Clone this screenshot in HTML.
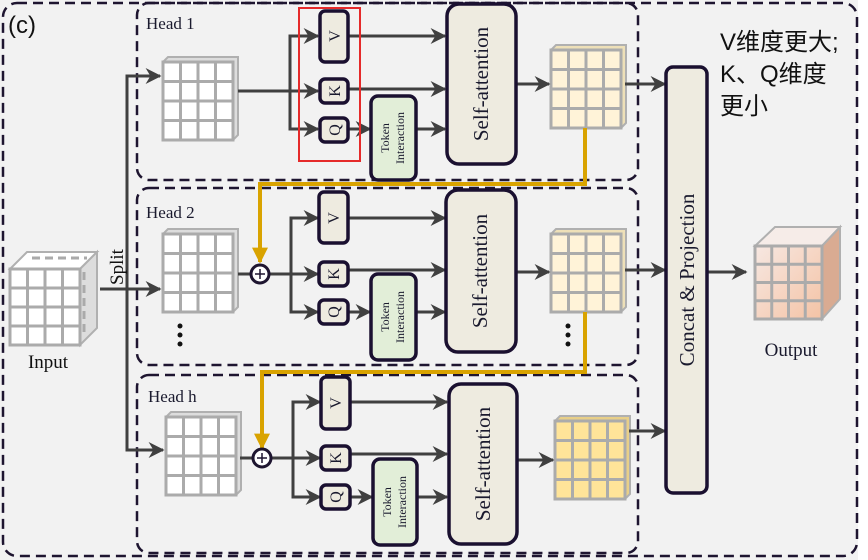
<!DOCTYPE html>
<html><head><meta charset="utf-8"><style>
html,body{margin:0;padding:0;background:#fff;}
svg{display:block;}
.serif{font-family:"Liberation Serif","DejaVu Serif",serif;}
</style></head><body>
<svg width="868" height="560" viewBox="0 0 868 560" xmlns="http://www.w3.org/2000/svg">
<defs>
<marker id="ar" viewBox="0 0 10 10" refX="9" refY="5" markerWidth="5" markerHeight="5" orient="auto" markerUnits="userSpaceOnUse">
<path d="M0,0 L10,5 L0,10 L3,5 z" fill="#404040"/>
</marker>
<marker id="a2" viewBox="0 0 10 10" refX="9" refY="5" markerWidth="16" markerHeight="16" orient="auto" markerUnits="userSpaceOnUse">
<path d="M0,0 L10,5 L0,10 L3,5 z" fill="#404040"/>
</marker>
<marker id="ag" viewBox="0 0 10 10" refX="9" refY="5" markerWidth="16" markerHeight="16" orient="auto" markerUnits="userSpaceOnUse">
<path d="M0,0 L10,5 L0,0 L0,10 L10,5 z" fill="#d9a300"/>
</marker>
<linearGradient id="og" x1="0" y1="0" x2="1" y2="1"><stop offset="0" stop-color="#f7e8e2"/><stop offset="1" stop-color="#f4c3a5"/></linearGradient>
<g id="gw">
<path d="M0,0 l5,-5 h70 v78 l-5,5 z" fill="#ddd" stroke="#b0b0b0" stroke-width="2"/>
<rect x="0" y="0" width="70" height="78" fill="#fff" stroke="#ababab" stroke-width="3"/>
<path d="M17.5,0 v78 M35,0 v78 M52.5,0 v78 M0,19.5 h70 M0,39 h70 M0,58.5 h70" stroke="#ababab" stroke-width="3"/>
</g>
<g id="gc">
<path d="M0,0 l5,-5 h70 v78 l-5,5 z" fill="#eee0b8" stroke="#b0b0b0" stroke-width="2"/>
<rect x="0" y="0" width="70" height="78" fill="#fff3d8" stroke="#ababab" stroke-width="3"/>
<path d="M17.5,0 v78 M35,0 v78 M52.5,0 v78 M0,19.5 h70 M0,39 h70 M0,58.5 h70" stroke="#ababab" stroke-width="3"/>
</g>
<g id="gy">
<path d="M0,0 l5,-5 h70 v78 l-5,5 z" fill="#e8cf88" stroke="#b0b0b0" stroke-width="2"/>
<rect x="0" y="0" width="70" height="78" fill="#ffe499" stroke="#ababab" stroke-width="3"/>
<path d="M17.5,0 v78 M35,0 v78 M52.5,0 v78 M0,19.5 h70 M0,39 h70 M0,58.5 h70" stroke="#ababab" stroke-width="3"/>
</g>
</defs>
<rect x="0" y="0" width="858" height="560" fill="#f2f2f2"/>
<rect x="3" y="3" width="854" height="553" rx="14" fill="none" stroke="#1e1530" stroke-width="2.5" stroke-dasharray="10,6"/>
<text x="8" y="33" font-family="Liberation Sans,sans-serif" font-size="24" fill="#111">(c)</text>

<!-- head boxes -->
<rect x="137" y="3" width="501" height="177" rx="12" fill="none" stroke="#1e1530" stroke-width="2.5" stroke-dasharray="10,6"/>
<rect x="137" y="188" width="501" height="177" rx="12" fill="none" stroke="#1e1530" stroke-width="2.5" stroke-dasharray="10,6"/>
<rect x="137" y="375" width="501" height="178" rx="12" fill="none" stroke="#1e1530" stroke-width="2.5" stroke-dasharray="10,6"/>
<text x="146" y="29" class="serif" font-size="17" fill="#1a1a2e">Head 1</text>
<text x="146" y="218" class="serif" font-size="17" fill="#1a1a2e">Head 2</text>
<text x="148" y="402" class="serif" font-size="17" fill="#1a1a2e">Head h</text>

<!-- input cube -->
<path d="M10,269 l17,-17 h70 l-17,17 z" fill="#fff" stroke="#b0b0b0" stroke-width="2"/>
<path d="M80,269 l17,-17 v76 l-17,17 z" fill="#ddd" stroke="#b0b0b0" stroke-width="2"/>
<path d="M32,258 h55 M84,272 v65" stroke="#aaa" stroke-width="3" stroke-dasharray="8,5"/>
<rect x="10" y="269" width="70" height="76" fill="#fff" stroke="#ababab" stroke-width="3"/>
<path d="M27.5,269 v76 M45,269 v76 M62.5,269 v76 M10,288 h70 M10,307 h70 M10,326 h70" stroke="#ababab" stroke-width="3"/>
<text x="48" y="368" text-anchor="middle" class="serif" font-size="19" fill="#111">Input</text>

<!-- split -->
<line x1="100" y1="289" x2="160" y2="289" stroke="#404040" stroke-width="3" marker-end="url(#a2)"/>
<path d="M160,76 H127 V450 H160" fill="none" stroke="#404040" stroke-width="3"/>
<line x1="127" y1="76" x2="160" y2="76" stroke="#404040" stroke-width="3" marker-end="url(#a2)"/>
<line x1="127" y1="450" x2="163" y2="450" stroke="#404040" stroke-width="3" marker-end="url(#a2)"/>
<text transform="translate(123,285) rotate(-90)" class="serif" font-size="19" fill="#111">Split</text>

<!-- grids -->
<use href="#gw" x="163" y="62"/>
<use href="#gw" x="163" y="234"/>
<use href="#gw" x="166" y="417"/>
<use href="#gc" x="551" y="50"/>
<use href="#gc" x="551" y="234"/>
<use href="#gy" x="555" y="421"/>

<!-- dots -->
<g fill="#111"><circle cx="180" cy="326" r="2.5"/><circle cx="180" cy="335" r="2.5"/><circle cx="180" cy="344" r="2.5"/>
<circle cx="568" cy="326" r="2.5"/><circle cx="568" cy="335" r="2.5"/><circle cx="568" cy="344" r="2.5"/></g>

<!-- gold -->
<path d="M585,128 V184 H260 V262" fill="none" stroke="#d9a300" stroke-width="4" marker-end="url(#ag)"/>
<path d="M585,312 V372 H262 V448" fill="none" stroke="#d9a300" stroke-width="4" marker-end="url(#ag)"/>

<g stroke="#404040" stroke-width="3" fill="none">
<!-- head1 -->
<path d="M238,91 H290 M318,36 H290 V129 H318"/>
<line x1="290" y1="36" x2="318" y2="36" marker-end="url(#a2)"/>
<line x1="238" y1="91" x2="318" y2="91" marker-end="url(#a2)"/>
<line x1="290" y1="129" x2="318" y2="129" marker-end="url(#a2)"/>
<line x1="348" y1="36" x2="445" y2="36" marker-end="url(#a2)"/>
<line x1="348" y1="89" x2="445" y2="89" marker-end="url(#a2)"/>
<line x1="348" y1="129" x2="370" y2="129" marker-end="url(#a2)"/>
<line x1="416" y1="129" x2="445" y2="129" marker-end="url(#a2)"/>
<line x1="516" y1="84" x2="549" y2="84" marker-end="url(#a2)"/>
<line x1="625" y1="84" x2="665" y2="84" marker-end="url(#a2)"/>
<!-- head2 -->
<path d="M238,274 H251 M269,274 H291 M317,218 H291 V312 H317"/>
<line x1="291" y1="218" x2="318" y2="218" marker-end="url(#a2)"/>
<line x1="269" y1="274" x2="318" y2="274" marker-end="url(#a2)"/>
<line x1="291" y1="312" x2="318" y2="312" marker-end="url(#a2)"/>
<line x1="348" y1="218" x2="445" y2="218" marker-end="url(#a2)"/>
<line x1="348" y1="270" x2="445" y2="270" marker-end="url(#a2)"/>
<line x1="348" y1="312" x2="370" y2="312" marker-end="url(#a2)"/>
<line x1="416" y1="312" x2="445" y2="312" marker-end="url(#a2)"/>
<line x1="516" y1="272" x2="549" y2="272" marker-end="url(#a2)"/>
<line x1="625" y1="270" x2="665" y2="270" marker-end="url(#a2)"/>
<!-- head h -->
<path d="M240,458 H253 M271,458 H293 M320,402 H293 V497 H320"/>
<line x1="293" y1="402" x2="320" y2="402" marker-end="url(#a2)"/>
<line x1="271" y1="458" x2="320" y2="458" marker-end="url(#a2)"/>
<line x1="293" y1="497" x2="320" y2="497" marker-end="url(#a2)"/>
<line x1="350" y1="402" x2="447" y2="402" marker-end="url(#a2)"/>
<line x1="350" y1="454" x2="447" y2="454" marker-end="url(#a2)"/>
<line x1="350" y1="497" x2="372" y2="497" marker-end="url(#a2)"/>
<line x1="418" y1="497" x2="447" y2="497" marker-end="url(#a2)"/>
<line x1="518" y1="460" x2="553" y2="460" marker-end="url(#a2)"/>
<line x1="629" y1="431" x2="665" y2="431" marker-end="url(#a2)"/>
<!-- out -->
<line x1="708" y1="272" x2="746" y2="272" marker-end="url(#a2)"/>
</g>

<!-- plus circles -->
<g stroke="#1e1530" stroke-width="3" fill="#fff">
<circle cx="260" cy="274" r="9"/><circle cx="262" cy="458" r="9"/></g>
<g stroke="#1e1530" stroke-width="1.5"><path d="M255,274 h10 M260,269 v10 M257,458 h10 M262,453 v10"/></g>

<!-- boxes -->
<g stroke="#1a1030" stroke-width="3.5" fill="#eeebe0">
<rect x="320" y="11" width="28" height="51" rx="5"/>
<rect x="320" y="79" width="28" height="24" rx="5"/>
<rect x="320" y="118" width="28" height="24" rx="5"/>
<rect x="319" y="192" width="29" height="51" rx="5"/>
<rect x="319" y="262" width="29" height="24" rx="5"/>
<rect x="319" y="300" width="29" height="24" rx="5"/>
<rect x="321" y="377" width="29" height="52" rx="5"/>
<rect x="321" y="446" width="29" height="24" rx="5"/>
<rect x="321" y="485" width="29" height="24" rx="5"/>
<rect x="447" y="4" width="69" height="160" rx="12"/>
<rect x="446" y="190" width="70" height="162" rx="12"/>
<rect x="449" y="384" width="68" height="160" rx="12"/>
<rect x="666" y="67" width="41" height="426" rx="7"/>
</g>
<g stroke="#1a1030" stroke-width="3.5" fill="#e2eed8">
<rect x="371" y="96" width="45" height="84" rx="7"/>
<rect x="371" y="274" width="45" height="86" rx="7"/>
<rect x="373" y="459" width="44" height="86" rx="7"/>
</g>
<rect x="299" y="8" width="61" height="153" fill="none" stroke="#e52a2a" stroke-width="2"/>

<g class="serif" fill="#1a1a2e" text-anchor="middle">
<text transform="translate(340,36) rotate(-90)" font-size="16" dy="0">V</text>
<text transform="translate(340,91) rotate(-90)" font-size="16">K</text>
<text transform="translate(340,130) rotate(-90)" font-size="16">Q</text>
<text transform="translate(339,218) rotate(-90)" font-size="16">V</text>
<text transform="translate(339,274) rotate(-90)" font-size="16">K</text>
<text transform="translate(339,312) rotate(-90)" font-size="16">Q</text>
<text transform="translate(341,403) rotate(-90)" font-size="16">V</text>
<text transform="translate(341,458) rotate(-90)" font-size="16">K</text>
<text transform="translate(341,497) rotate(-90)" font-size="16">Q</text>
<text transform="translate(389,138) rotate(-90)" font-size="12">Token</text>
<text transform="translate(404,138) rotate(-90)" font-size="12">Interaction</text>
<text transform="translate(389,317) rotate(-90)" font-size="12">Token</text>
<text transform="translate(404,317) rotate(-90)" font-size="12">Interaction</text>
<text transform="translate(391,502) rotate(-90)" font-size="12">Token</text>
<text transform="translate(406,502) rotate(-90)" font-size="12">Interaction</text>
<text transform="translate(488,84) rotate(-90)" font-size="21">Self-attention</text>
<text transform="translate(487,271) rotate(-90)" font-size="21">Self-attention</text>
<text transform="translate(490,464) rotate(-90)" font-size="21">Self-attention</text>
<text transform="translate(694,280) rotate(-90)" font-size="21">Concat &amp; Projection</text>
<text x="791" y="356" font-size="19">Output</text>
</g>

<!-- output cube -->
<path d="M755,246 l20,-19 h65 l-18,19 z" fill="#f6ece8" stroke="#b0b0b0" stroke-width="2"/>
<path d="M822,246 l18,-19 v72 l-18,20 z" fill="#d9ab92" stroke="#b0b0b0" stroke-width="2"/>
<rect x="755" y="246" width="67" height="73" fill="url(#og)" stroke="#ababab" stroke-width="3"/>
<path d="M771.75,246 v73 M788.5,246 v73 M805.25,246 v73 M755,264.25 h67 M755,282.5 h67 M755,300.75 h67" stroke="#ababab" stroke-width="3"/>

<g font-family="Liberation Sans,'Noto Sans CJK SC',sans-serif" font-size="24" fill="#111">
<text x="720" y="50">V维度更大;</text>
<text x="720" y="82">K、Q维度</text>
<text x="720" y="114">更小</text>
</g>
</svg>
</body></html>
